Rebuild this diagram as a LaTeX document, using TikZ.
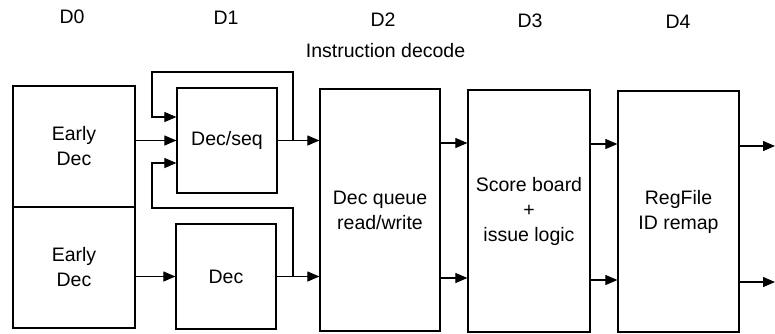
\documentclass[tikz,border=0pt]{standalone}
\usepackage{fontspec}
\setmainfont{Liberation Sans}
\usetikzlibrary{arrows.meta}
\begin{document}
\begin{tikzpicture}[x={(1pt,0)},y={(0,-1pt)},
  box/.style={draw,line width=1.2pt,rectangle,inner sep=0pt,align=center,
    font=\fontsize{19.5}{25}\selectfont},
  lbl/.style={font=\fontsize{19.5}{25}\selectfont,inner sep=0pt},
  conn/.style={line width=1.1pt,-{Triangle[length=12pt,width=10pt]}},
  line/.style={line width=1.1pt}]
\useasboundingbox (0,0) rectangle (775,333);
% stage labels
\node[lbl] (d0) at (72,17) {D0};
\node[lbl] (d1) at (226,18) {D1};
\node[lbl] (d2) at (383,20) {D2};
\node[lbl] (d3) at (530,21) {D3};
\node[lbl] (d4) at (678,22) {D4};
\node[lbl] (idec) at (385.5,51) {Instruction decode};
% boxes
\node[box,minimum width=122pt,minimum height=121pt] (ed1) at (74,146.5) {Early\\Dec};
\node[box,minimum width=122pt,minimum height=121pt] (ed2) at (74,267.5) {Early\\Dec};
\node[box,minimum width=100pt,minimum height=105pt] (dseq) at (227,140.5) {Dec/seq};
\node[box,minimum width=100pt,minimum height=105pt] (dec) at (226,276.5) {Dec};
\node[box,minimum width=120pt,minimum height=242pt] (dq) at (380,210) {Dec queue\\read/write};
\node[box,minimum width=122pt,minimum height=242pt] (sb) at (529,211) {Score board\\+\\issue logic};
\node[box,minimum width=121pt,minimum height=241pt] (rf) at (678.5,211.5) {RegFile\\ID remap};
% connectors
\draw[conn] (ed1.east |- dseq.west) -- (dseq.west);
\draw[conn] (ed2.east |- dec.west) -- (dec.west);
\draw[conn] (dseq.east) -- (dq.west |- dseq.east);
\draw[conn] (dec.east) -- (dq.west |- dec.east);
\coordinate (fb1) at (293,140.5);
\coordinate (fb2) at (293,276.5);
\draw[conn] (fb1) |- (152,72) |- (dseq.west |- 0,117);
\draw[conn] (fb2) |- (152,208) |- (dseq.west |- 0,163);
\draw[conn] (dq.east |- 0,143) -- (sb.west |- 0,143);
\draw[conn] (dq.east |- 0,278) -- (sb.west |- 0,278);
\draw[conn] (sb.east |- 0,144) -- (rf.west |- 0,144);
\draw[conn] (sb.east |- 0,280) -- (rf.west |- 0,280);
\coordinate (out1) at (775,146);
\coordinate (out2) at (775,282);
\draw[conn] (rf.east |- out1) -- (out1);
\draw[conn] (rf.east |- out2) -- (out2);
\end{tikzpicture}
\end{document}
